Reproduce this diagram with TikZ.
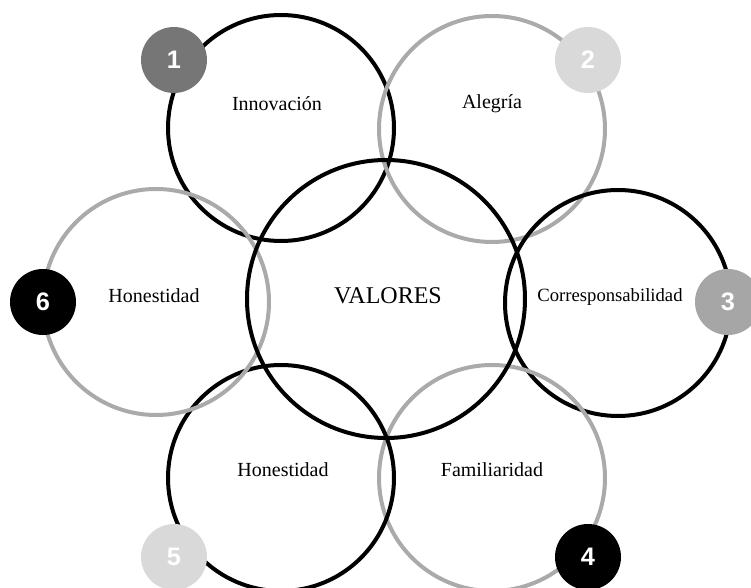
\documentclass[tikz,border=0pt]{standalone}
\usepackage{fontspec}
\setmainfont{Liberation Serif}
\newfontfamily\numfont{Liberation Sans}
\usetikzlibrary{positioning}
\definecolor{ringgray}{RGB}{170,170,170}
\definecolor{badgedark}{RGB}{118,118,118}
\definecolor{badgemid}{RGB}{166,166,166}
\definecolor{badgelight}{RGB}{217,217,217}

\begin{document}
\begin{tikzpicture}[
  x=0.75pt,y=-0.75pt,
  ring/.style={circle,draw,line width=3pt,inner sep=0pt,minimum size=169.5pt},
  bigring/.style={ring,minimum size=208.5pt},
  label/.style={font=\fontsize{15}{18}\selectfont},
  badge/.style={circle,inner sep=0pt,minimum size=49.5pt,text=white,font=\numfont\bfseries\fontsize{19}{21}\selectfont}
]
\useasboundingbox (0,0) rectangle (751,588);

% outer rings
\node[ring] (inno) at (281,128) {};
\node[ring,draw=ringgray] (aleg) at (492,129) {};
\node[ring] (corr) at (618,303) {};
\node[ring,draw=ringgray] (fami) at (492,478) {};
\node[ring] (hon5) at (281,478) {};
\node[ring,draw=ringgray] (hon6) at (156,302) {};

% centre
\node[bigring] (val) at (386,299) {};

% texts
\node[label] (tinno) at (277,104) {Innovación};
\node[label] (taleg) at (492,104) {Alegría};
\node[label] (tcorr) at (610,297) {\fontsize{14}{16}\selectfont Corresponsabilidad};
\node[label] (tfami) at (492,470) {Familiaridad};
\node[label] (thon5) at (283,470) {Honestidad};
\node[label] (thon6) at (154,296) {Honestidad};
\node[font=\fontsize{18}{20}\selectfont] (tval) at (388,296) {VALORES};

% badges
\node[badge,fill=badgedark] (b1) at (174,60) {1};
\node[badge,fill=badgelight] (b2) at (588,60) {2};
\node[badge,fill=badgemid] (b3) at (728,302) {3};
\node[badge,fill=black] (b4) at (588,557) {4};
\node[badge,fill=badgelight] (b5) at (174,557) {5};
\node[badge,fill=black] (b6) at (43,302) {6};
\end{tikzpicture}
\end{document}
